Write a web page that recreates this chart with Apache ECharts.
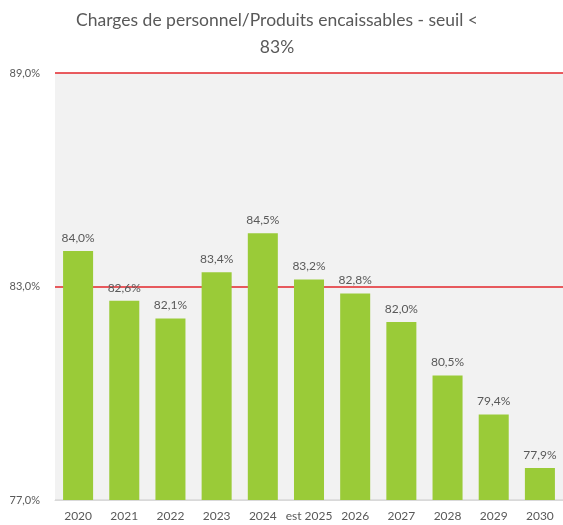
<!DOCTYPE html>
<html><head><meta charset="utf-8">
<script src="https://cdn.jsdelivr.net/npm/echarts@6/dist/echarts.min.js"></script>
<style>html,body{margin:0;padding:0;background:#fff}#c{width:563px;height:525px}</style>
</head><body><div id="c"></div>
<script>
const categories = ['2020','2021','2022','2023','2024','est 2025','2026','2027','2028','2029','2030'];
const values = [84.0, 82.6, 82.1, 83.4, 84.5, 83.2, 82.8, 82.0, 80.5, 79.4, 77.9];
const yTicks = [77, 83, 89];
const titleText = 'Charges de personnel/Produits encaissables - seuil <\n83%';
const fmt = v => v.toFixed(1).replace('.', ',') + '%';
const chart = echarts.init(document.getElementById('c'));
chart.setOption({
  animation: false,
  textStyle: { fontFamily: 'Lato, "Open Sans", sans-serif' },
  title: {
    text: titleText, left: 272, textAlign: 'center', top: 2,
    textStyle: { fontSize: 17.5, fontWeight: 'normal', color: '#595959', lineHeight: 27, fontFamily: 'Lato, "Open Sans", sans-serif' }
  },
  grid: { left: 55, right: 0, top: 73, bottom: 25, show: true, backgroundColor: '#f2f2f2', borderWidth: 0 },
  xAxis: {
    type: 'category', data: categories,
    axisLine: { lineStyle: { color: '#d9d9d9', width: 1 } },
    axisTick: { show: false },
    axisLabel: { color: '#595959', fontSize: 12, margin: 10, interval: 0 }
  },
  yAxis: {
    type: 'value', min: yTicks[0], max: yTicks[yTicks.length - 1], interval: yTicks[1] - yTicks[0],
    axisLabel: { color: '#595959', fontSize: 11, formatter: v => fmt(v), margin: 15 },
    axisLine: { show: false }, axisTick: { show: false },
    splitLine: { lineStyle: { color: ['#d9d9d9', '#e3262b', '#e3262b'], width: 1.5 } }
  },
  series: [{
    type: 'bar', data: values, barWidth: '65%',
    itemStyle: { color: '#9acb38' },
    label: { show: true, position: 'top', distance: 7, color: '#595959', fontSize: 12, formatter: p => fmt(p.value) }
  }]
});
</script></body></html>
